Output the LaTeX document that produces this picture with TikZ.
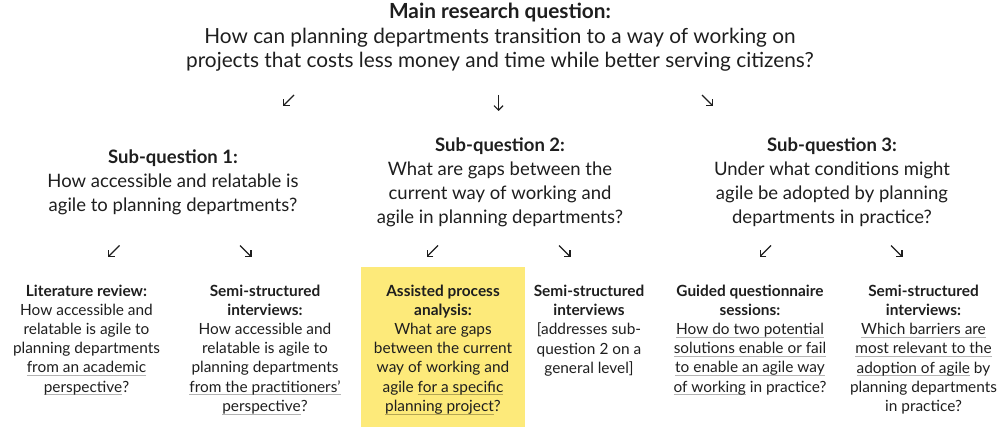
\documentclass[tikz,border=0pt]{standalone}
\usepackage{fontspec}
\setmainfont{Lato}
\usetikzlibrary{arrows.meta}
\definecolor{txt}{HTML}{1E1E1E}
\definecolor{hl}{HTML}{FDEA7A}
\definecolor{ulgray}{HTML}{B4B4B4}
\definecolor{ulyel}{HTML}{B5A654}
\newcommand\myulc{ulgray}
\newcommand\gul[1]{\setbox0\hbox{#1}\rlap{\color{\myulc}\rule[-3.2pt]{\wd0}{0.9pt}}\box0\relax}
\tikzset{
  mainq/.style={align=center, text=txt, inner sep=0pt, font=\fontsize{20.8}{24.5}\selectfont},
  subq/.style={align=center, text=txt, inner sep=0pt, font=\fontsize{18.5}{24}\selectfont},
  leaf/.style={align=center, text=txt, inner sep=0pt, font=\fontsize{15.4}{19.2}\selectfont},
  yleaf/.style={leaf, execute at begin node={\def\myulc{ulyel}}},
  hlbox/.style={fill=hl, inner sep=0pt, minimum width=164pt, minimum height=160pt},
  arr/.style={draw=txt, line width=1.2pt, -{Straight Barb[length=4.5pt,width=9pt]}}
}
\begin{document}
\begin{tikzpicture}[x=1pt,y=-1pt]
\useasboundingbox (0,0) rectangle (1000,427);
% main question
\node[mainq] (main) at (500,37.5) {\textbf{Main research question:}\\How can planning departments transition to a way of working on\\projects that costs less money and time while better serving citizens?};
% sub-questions
\node[subq] (sq1) at (173,182) {\textbf{Sub-question 1:}\\How accessible and relatable is\\agile to planning departments?};
\node[subq] (sq2) at (500,182.5) {\textbf{Sub-question 2:}\\What are gaps between the\\current way of working and\\agile in planning departments?};
\node[subq] (sq3) at (832,182.5) {\textbf{Sub-question 3:}\\Under what conditions might\\agile be adopted by planning\\departments in practice?};
% highlight
\node[hlbox] (hl) at (443,347) {};
% leaves
\node[leaf] (l1) at (86.5,340) {\textbf{Literature review:}\\How accessible and\\relatable is agile to\\planning departments\\\gul{from an academic}\\\gul{perspective}?};
\node[leaf] (l2) at (265,349.5) {\textbf{Semi-structured}\\\textbf{interviews:}\\How accessible and\\relatable is agile to\\planning departments\\\gul{from the practitioners’}\\\gul{perspective}?};
\node[yleaf] (l3) at (443,349.5) {\textbf{Assisted process}\\\textbf{analysis:}\\What are gaps\\between the current\\way of working and\\agile \gul{for a specific}\\\gul{planning project}?};
\node[leaf] (l4) at (589,330.5) {\textbf{Semi-structured}\\\textbf{interviews}\\{[}addresses sub-\\question 2 on a\\general level{]}};
\node[leaf] (l5) at (750,340) {\textbf{Guided questionnaire}\\\textbf{sessions:}\\\gul{How do two potential}\\\gul{solutions enable or fail}\\\gul{to enable an agile way}\\\gul{of working} in practice?};
\node[leaf] (l6) at (923.5,349.5) {\textbf{Semi-structured}\\\textbf{interviews:}\\\gul{Which barriers are}\\\gul{most relevant to the}\\\gul{adoption of agile} by\\planning departments\\in practice?};
% arrow end points
\coordinate (a1s) at (294,95);   \coordinate (a1e) at (283,106);
\coordinate (a2s) at (498.5,95); \coordinate (a2e) at (498.5,111);
\coordinate (a3s) at (702,95);   \coordinate (a3e) at (713,106);
\coordinate (b1s) at (119.5,245.5); \coordinate (b1e) at (108,257);
\coordinate (b2s) at (240,245.5);   \coordinate (b2e) at (251.5,257);
\coordinate (b3s) at (438,245.5);   \coordinate (b3e) at (426.5,257);
\coordinate (b4s) at (559,245.5);   \coordinate (b4e) at (570.5,257);
\coordinate (b5s) at (771,245.5);   \coordinate (b5e) at (759.5,257);
\coordinate (b6s) at (891,245.5);   \coordinate (b6e) at (902.5,257);
\foreach \s/\e in {a1s/a1e,a2s/a2e,a3s/a3e,b1s/b1e,b2s/b2e,b3s/b3e,b4s/b4e,b5s/b5e,b6s/b6e}
  \draw[arr] (\s) -- (\e);
\end{tikzpicture}
\end{document}
